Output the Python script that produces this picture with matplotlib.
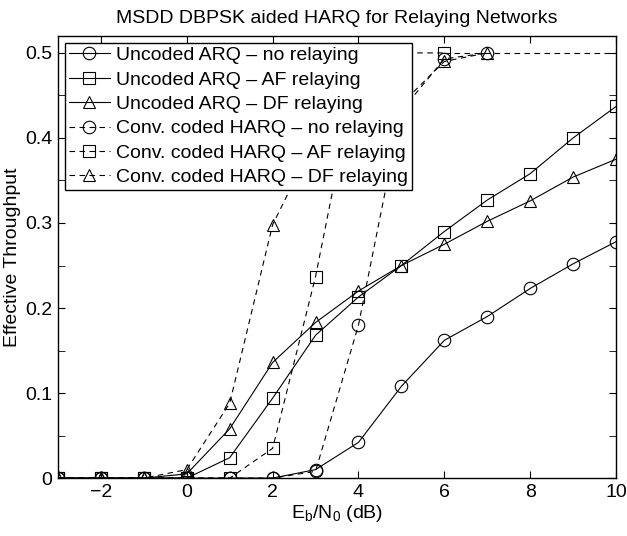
import numpy as np
import matplotlib.pyplot as plt
from matplotlib.ticker import MultipleLocator

plt.rcParams['font.family'] = ['Liberation Sans', 'DejaVu Sans']
plt.rcParams['mathtext.fontset'] = 'custom'
plt.rcParams['mathtext.rm'] = 'Liberation Sans'

# ======== DATA ========
snr = [-3, -2, -1, 0, 1, 2, 3, 4, 5, 6, 7, 8, 9, 10]

unc_none = [0, 0, 0, 0, 0, 0, 0.010, 0.042, 0.108, 0.162, 0.190, 0.223, 0.252, 0.278]
unc_af = [0, 0, 0, 0, 0.024, 0.094, 0.168, 0.213, 0.250, 0.290, 0.327, 0.358, 0.400, 0.437]
unc_df = [0, 0, 0, 0.005, 0.058, 0.136, 0.183, 0.220, 0.250, 0.275, 0.302, 0.326, 0.354, 0.375]

snr_cod = [-3, -2, -1, 0, 1, 2, 3, 4, 5, 6, 7]
cod_none = [0, 0, 0, 0, 0, 0, 0.008, 0.180, 0.432, 0.493, 0.500]
cod_df = [0, 0, 0, 0.010, 0.088, 0.298, 0.400, 0.430, 0.440, 0.490, 0.500]
snr_af = [-3, -2, -1, 0, 1, 2, 3, 4, 5, 6, 7, 8, 9, 10]
cod_af = [0, 0, 0, 0, 0, 0.035, 0.237, 0.490, 0.500, 0.500, 0.500, 0.500, 0.500, 0.500]

labels = ['Uncoded ARQ \u2013 no relaying', 'Uncoded ARQ \u2013 AF relaying',
          'Uncoded ARQ \u2013 DF relaying', 'Conv. coded HARQ \u2013 no relaying',
          'Conv. coded HARQ \u2013 AF relaying', 'Conv. coded HARQ \u2013 DF relaying']

fig = plt.figure(figsize=(6.27, 5.36), dpi=100)
ax = fig.add_axes([0.0925, 0.108, 0.89, 0.825])

kw = dict(color='k', lw=0.8, mfc='none', mec='k', mew=0.8, ms=9)
dash = dict(ls=(0, (5, 4)))

ax.plot(snr, unc_none, marker='o', label=labels[0], **kw)
ax.plot(snr, unc_af, marker='s', label=labels[1], **kw)
ax.plot(snr, unc_df, marker='^', label=labels[2], **kw)
ax.plot(snr_cod, cod_none, marker='o', label=labels[3], **dash, **kw)
ax.plot(snr_af[:10], cod_af[:10], marker='s', label=labels[4], **dash, **kw)
ax.plot(snr_af[9:], cod_af[9:], **dash, color='k', lw=0.8)
ax.plot(snr_cod, cod_df, marker='^', label=labels[5], **dash, **kw)

ax.set_xlim(-3, 10)
ax.set_ylim(0, 0.52)
ax.set_xticks([-2, 0, 2, 4, 6, 8, 10])
ax.set_yticks([0, 0.1, 0.2, 0.3, 0.4, 0.5])
ax.set_yticklabels(['0', '0.1', '0.2', '0.3', '0.4', '0.5'])
ax.yaxis.set_minor_locator(MultipleLocator(0.05))
ax.tick_params(which='both', direction='in', top=True, right=True, labelsize=14, length=5, pad=4)
for s in ax.spines.values():
    s.set_linewidth(1.0)

ax.set_xlabel('E$_\\mathregular{b}$/N$_\\mathregular{0}$ (dB)', fontsize=14, labelpad=2)
ax.set_ylabel('Effective Throughput', fontsize=14, labelpad=3)
ax.set_title('MSDD DBPSK aided HARQ for Relaying Networks', fontsize=14, pad=9)

leg = ax.legend(loc='upper left', fontsize=14, handlelength=2.1, handletextpad=0.35,
                borderaxespad=0.35, borderpad=0.2, labelspacing=0.35,
                fancybox=False, edgecolor='k', framealpha=1)
leg.get_frame().set_linewidth(1.0)

fig.savefig('out.png', dpi=100)
